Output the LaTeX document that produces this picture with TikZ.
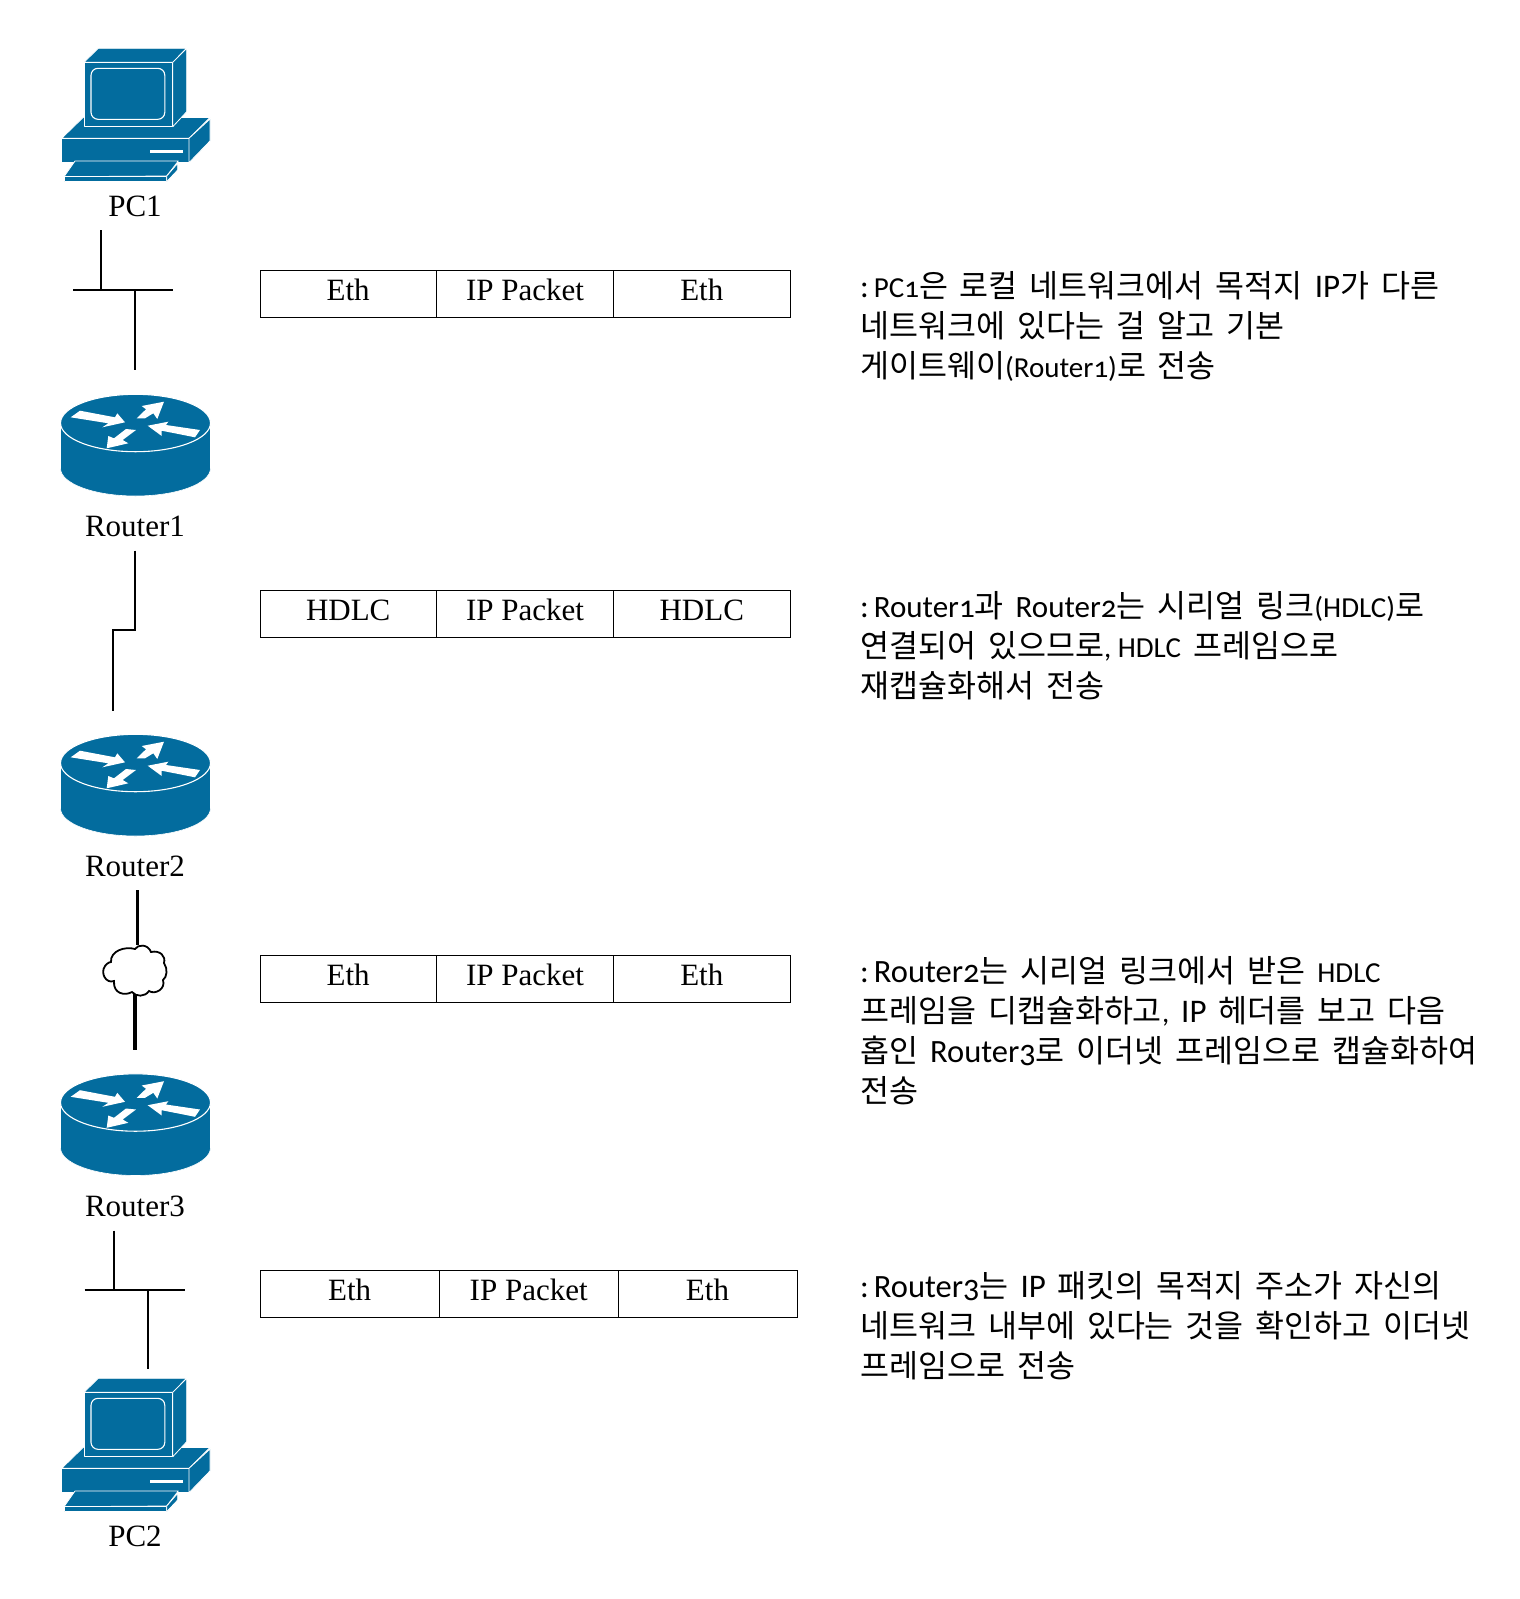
\documentclass[tikz,border=0pt]{standalone}
\usepackage{fontspec}
\setmainfont{Liberation Serif}
\newfontfamily\kr[WordSpace=1.7]{Noto Sans CJK KR}
\newfontfamily\lat[Numbers=OldStyle]{Carlito}
\newcommand{\LT}[1]{{\lat\fontsize{32.5}{40}\selectfont #1}}
\newcommand{\LN}[1]{{\lat\fontsize{31}{40}\selectfont #1}}
\newcommand{\LC}[1]{{\lat\fontsize{29}{40}\selectfont #1}}
\newcommand{\LI}[1]{{\lat\fontsize{33}{40}\selectfont #1}}
\newcommand{\CO}{{\lat\fontsize{32.5}{40}\selectfont :\hspace{5pt}}}
\definecolor{cisco}{HTML}{036C9E}
\tikzset{
  icon/.style={fill=cisco,draw=white,line width=0.8pt,line join=round},
  wire/.style={draw=black,line width=2pt},
  boldwire/.style={draw=black,line width=3.2pt},
  cell/.style={draw=black,line width=0.8pt,minimum height=47pt,anchor=north west,inner sep=0pt,text depth=0pt},
  celltext/.style={font=\fontsize{31}{32}\selectfont,anchor=base},
  lbl/.style={font=\fontsize{31}{32}\selectfont,anchor=base},
  note/.style={font=\kr\fontsize{31.5}{40}\selectfont,anchor=north west,align=left,inner sep=0pt},
  pics/pcicon/.style={code={
    \path[icon] (61.7,138.3)--(83.3,117.3)--(210,117.5)--(189,138.3)--cycle;
    \path[icon] (61.7,138.3) rectangle (189,162.7);
    \path[icon] (189,138.3)--(210,119)--(210,141)--(189,162.7)--cycle;
    \fill[white] (149.5,150) rectangle (182.5,152.7);
    \path[icon] (84,62.3)--(98.3,48.3)--(186.7,48.3)--(172.8,62.3)--cycle;
    \path[icon] (172.8,62.3)--(186.7,48.3)--(186.7,111.7)--(172.8,126.7)--cycle;
    \path[icon] (84,62.3) rectangle (172.8,126.7);
    \draw[white,line width=1.1pt,rounded corners=7pt] (91,68.3) rectangle (164.8,119.3);
    \path[icon] (75,161)--(178.3,161)--(166.7,176)--(64,176.7)--cycle;
    \path[icon] (64,176.7) rectangle (166,181.7);
    \path[icon] (166.7,176)--(177.7,163.3)--(177.7,170)--(166.7,181.7)--cycle;
  }},
  pics/routericon/.style={code={
    \path[fill=cisco,draw=white,line width=0.6pt] (60.5,423)--(60.5,468.3) arc[start angle=180,end angle=0,x radius=75,y radius=27.7]--(210.5,423)--cycle;
    \path[fill=cisco,draw=white,line width=1.1pt] (135.5,423) ellipse[x radius=75,y radius=28.7];
    \fill[white] (80,410.7)--(115,417.3)--(117.3,413.3)--(125,422.3)--(102.3,427.3)--(108.3,423.3)--(70.7,417.3)--cycle;
    \fill[white] (136.7,418.3)--(146,409.3)--(141.7,406)--(164,401.7)--(157.3,419)--(153.3,413.3)--(145,418.3)--cycle;
    \fill[white] (147.7,425.7)--(168.3,421.7)--(166,425)--(200,430)--(195,437.3)--(161.7,430.7)--(161.7,436)--cycle;
    \fill[white] (126,429)--(136,430)--(122.7,440)--(128.3,443.3)--(106.7,448.3)--(108.3,436)--(114,438.3)--cycle;
  }}
}
\begin{document}
\begin{tikzpicture}[x=1pt,y=-1pt]
\useasboundingbox (0,0) rectangle (1520,1599);
% icons
\pic at (0,0) {pcicon};
\pic at (0,0) {routericon};
\pic at (0,340) {routericon};
\pic at (0,679.5) {routericon};
\pic at (0,1330) {pcicon};
% labels
\node[lbl] (pc1) at (135,216) {PC1};
\node[lbl] (r1) at (135,536) {Router1};
\node[lbl] (r2) at (135,876) {Router2};
\node[lbl] (r3) at (135,1216) {Router3};
\node[lbl] (pc2) at (135,1546) {PC2};
% connector ends
\coordinate (a1) at (101,230); \coordinate (a2) at (101,289.5);
\coordinate (al) at (73.4,289.5); \coordinate (ar) at (173.3,289.5);
\coordinate (a3) at (135,289.5); \coordinate (a4) at (135,370);
\draw[wire] (a1)--(a2); \draw[wire] (al)--(ar); \draw[wire] (a3)--(a4);
\coordinate (b1) at (135,550.5); \coordinate (b2) at (113.4,710.6);
\draw[wire] (b1)--(135,630)--(113.4,630)--(b2);
% cloud
\coordinate (c1) at (137.7,890); \coordinate (c2) at (137.7,945);
\coordinate (c3) at (135,993); \coordinate (c4) at (135,1050);
\draw[boldwire] (c1)--(c2); \draw[boldwire] (c3)--(c4);
\draw[draw=black,fill=white,line width=1.8pt] (135,949)
 .. controls (138,944) and (148,944) .. (151,952)
 .. controls (160,950) and (166,956) .. (164,963)
 .. controls (168,969) and (167,977) .. (163,980)
 .. controls (166,989) and (155,995) .. (149,991)
 .. controls (145,997) and (136,997) .. (132,992)
 .. controls (125,996) and (113,994) .. (114,981)
 .. controls (106,984) and (100,973) .. (105,966)
 .. controls (108,962) and (111,962) .. (111,962)
 .. controls (110,951) and (125,946) .. (135,949) -- cycle;
\coordinate (d1) at (113.6,1230.5); \coordinate (d2) at (113.6,1289.7);
\coordinate (dl) at (84.6,1289.7); \coordinate (dr) at (184.5,1289.7);
\coordinate (d3) at (147.8,1289.7); \coordinate (d4) at (147.8,1369);
\draw[wire] (d1)--(d2); \draw[wire] (dl)--(dr); \draw[wire] (d3)--(d4);
% frames
\foreach \nm/\yt/\lab in {A/270/Eth,B/590.3/HDLC,C/955/Eth}{
  \node[cell,minimum width=176pt] (\nm1) at (260,\yt) {};
  \node[cell,minimum width=176.8pt] (\nm2) at (436,\yt) {};
  \node[cell,minimum width=177.2pt] (\nm3) at (612.8,\yt) {};
  \node[celltext] at (348.2,\yt+30) {\lab};
  \node[celltext] at (525,\yt+30) {IP Packet};
  \node[celltext] at (701.8,\yt+30) {\lab};
}
\node[cell,minimum width=179.4pt] (D1) at (260,1270) {};
\node[cell,minimum width=178.6pt] (D2) at (439.4,1270) {};
\node[cell,minimum width=179pt] (D3) at (618,1270) {};
\node[celltext] at (349.7,1300) {Eth};
\node[celltext] at (528.7,1300) {IP Packet};
\node[celltext] at (707.5,1300) {Eth};
% notes
\node[note] (n1) at (860,271) {\CO\LC{PC1}은 로컬 네트워크에서 목적지 \LI{IP}가 다른\\네트워크에 있다는 걸 알고 기본\\게이트웨이\LC{(Router1)}로 전송};
\node[note] (n2) at (860,591) {\CO\LN{Router1}과 \LN{Router2}는 시리얼 링크\LC{(HDLC)}로\\연결되어 있으므로\LC{, HDLC} 프레임으로\\재캡슐화해서 전송};
\node[note] (n3) at (860,956.5) {\CO\LT{Router2}는 시리얼 링크에서 받은 \LC{HDLC}\\프레임을 디캡슐화하고\LC{,} \LI{IP} 헤더를 보고 다음\\홉인 \LT{Router3}로 이더넷 프레임으로 캡슐화하여\\전송};
\node[note] (n4) at (860,1271) {\CO\LT{Router3}는 \LI{IP} 패킷의 목적지 주소가 자신의\\네트워크 내부에 있다는 것을 확인하고 이더넷\\프레임으로 전송};
\end{tikzpicture}
\end{document}
